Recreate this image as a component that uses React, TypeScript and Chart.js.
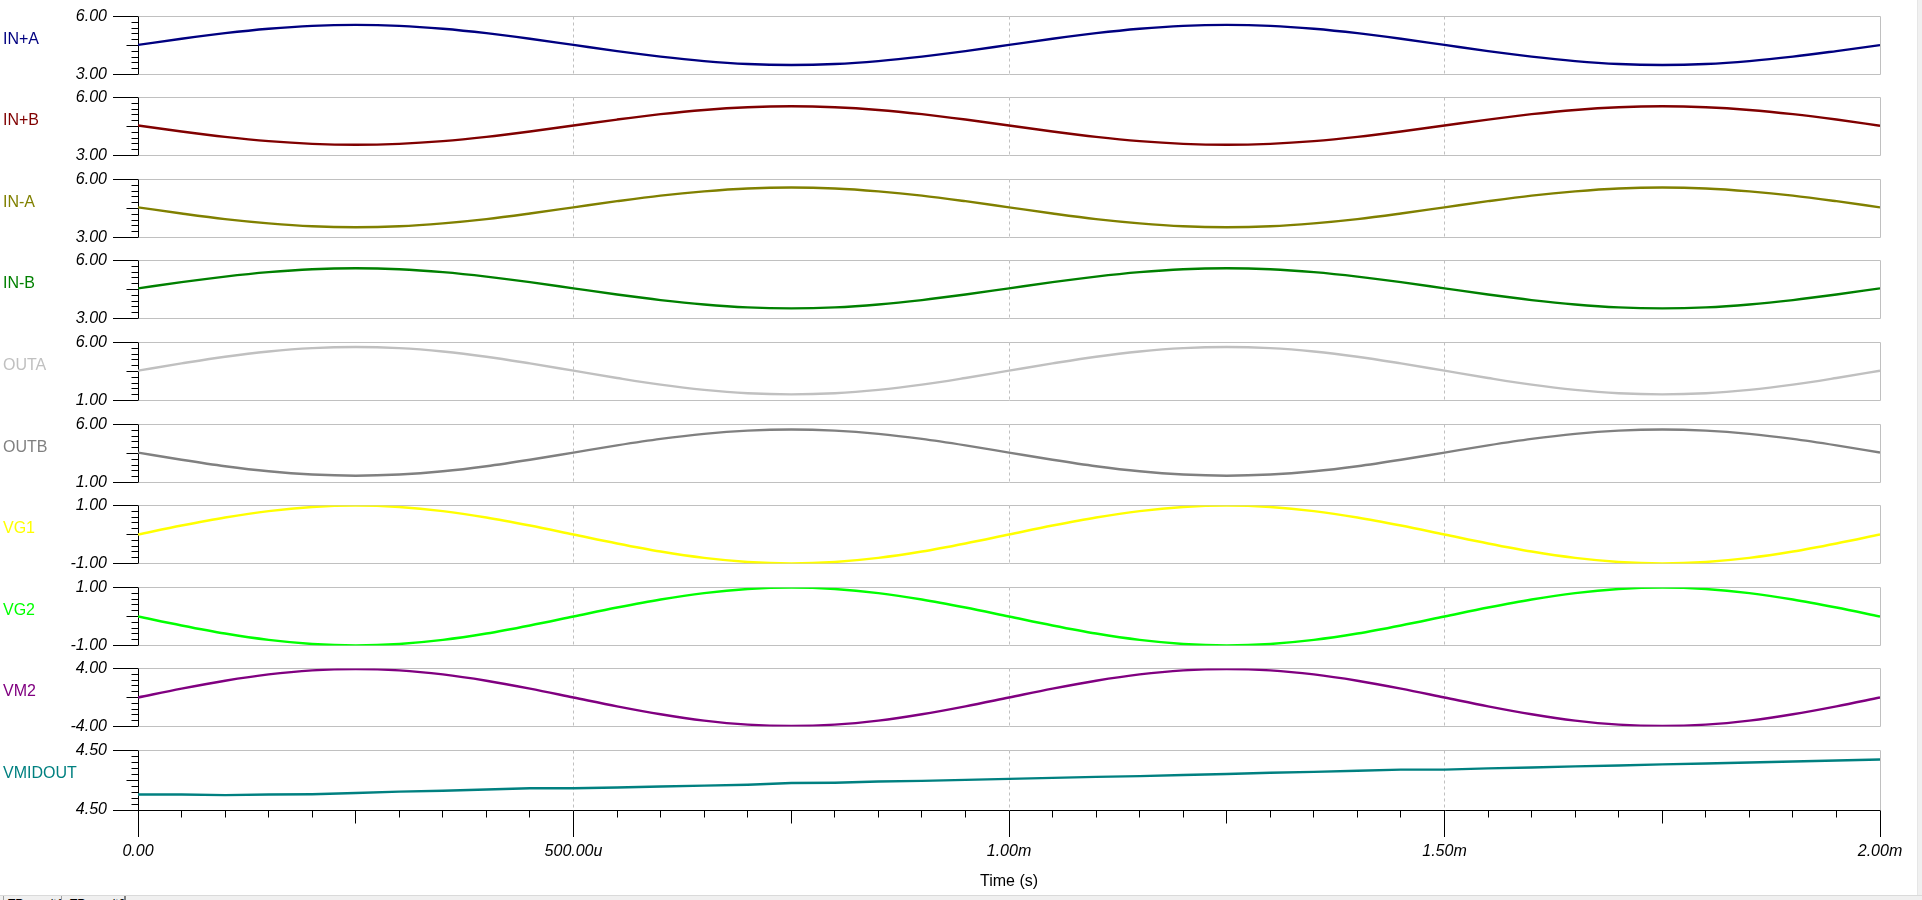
import React, { useEffect, useRef } from "react";
import { Chart, registerables } from "chart.js";

Chart.register(...registerables);

// ---------- data ----------
const TIME_US = [
  0, 50, 100, 150, 200, 250, 300, 350, 400, 450, 500, 550, 600, 650, 700, 750, 800, 850, 900, 950,
  1000, 1050, 1100, 1150, 1200, 1250, 1300, 1350, 1400, 1450, 1500, 1550, 1600, 1650, 1700, 1750,
  1800, 1850, 1900, 1950, 2000,
];

const X_TICK_VALUES = [0, 500, 1000, 1500, 2000];
const X_TICK_LABELS = ["0.00", "500.00u", "1.00m", "1.50m", "2.00m"];
const X_GRID_VALUES = [500, 1000, 1500];
const X_TITLE = "Time (s)";

const SERIES_NAMES = ["IN+A", "IN+B", "IN-A", "IN-B", "OUTA", "OUTB", "VG1", "VG2", "VM2", "VMIDOUT"];
const SERIES_COLORS = [
  "#000080", "#800000", "#808000", "#008000", "#c0c0c0",
  "#808080", "#ffff00", "#00ff00", "#800080", "#008080",
];
const Y_MIN = [3, 3, 3, 3, 1, 1, -1, -1, -4, 4.496];
const Y_MAX = [6, 6, 6, 6, 6, 6, 1, 1, 4, 4.504];
const Y_MIN_LABELS = ["3.00", "3.00", "3.00", "3.00", "1.00", "1.00", "-1.00", "-1.00", "-4.00", "4.50"];
const Y_MAX_LABELS = ["6.00", "6.00", "6.00", "6.00", "6.00", "6.00", "1.00", "1.00", "4.00", "4.50"];

const IN_PLUS_A = [
  4.53, 4.85, 5.14, 5.37, 5.52, 5.57, 5.52, 5.37, 5.14, 4.85, 4.53, 4.21, 3.92, 3.69, 3.54, 3.49, 3.54, 3.69, 3.92, 4.21,
  4.53, 4.85, 5.14, 5.37, 5.52, 5.57, 5.52, 5.37, 5.14, 4.85, 4.53, 4.21, 3.92, 3.69, 3.54, 3.49, 3.54, 3.69, 3.92, 4.21,
  4.52,
];
const IN_PLUS_B = [
  4.55, 4.24, 3.96, 3.74, 3.6, 3.55, 3.6, 3.74, 3.96, 4.24, 4.55, 4.86, 5.14, 5.36, 5.5, 5.55, 5.5, 5.36, 5.14, 4.86,
  4.55, 4.24, 3.96, 3.74, 3.6, 3.55, 3.6, 3.74, 3.96, 4.24, 4.55, 4.86, 5.14, 5.36, 5.5, 5.55, 5.5, 5.36, 5.14, 4.86,
  4.54,
];
const IN_MINUS_A = [
  4.56, 4.24, 3.95, 3.73, 3.58, 3.53, 3.58, 3.73, 3.95, 4.24, 4.56, 4.88, 5.17, 5.39, 5.54, 5.59, 5.54, 5.39, 5.17, 4.88,
  4.56, 4.24, 3.95, 3.73, 3.58, 3.53, 3.58, 3.73, 3.95, 4.24, 4.56, 4.88, 5.17, 5.39, 5.54, 5.59, 5.54, 5.39, 5.17, 4.88,
  4.56,
];
const IN_MINUS_B = [
  4.56, 4.88, 5.17, 5.4, 5.55, 5.6, 5.55, 5.4, 5.17, 4.88, 4.56, 4.24, 3.95, 3.72, 3.57, 3.52, 3.57, 3.72, 3.95, 4.24,
  4.56, 4.88, 5.17, 5.4, 5.55, 5.6, 5.55, 5.4, 5.17, 4.88, 4.56, 4.24, 3.95, 3.72, 3.57, 3.52, 3.57, 3.72, 3.95, 4.24,
  4.56,
];
const OUTA = [
  3.57, 4.2, 4.78, 5.23, 5.52, 5.62, 5.52, 5.23, 4.78, 4.2, 3.57, 2.94, 2.36, 1.91, 1.62, 1.52, 1.62, 1.91, 2.36, 2.94,
  3.57, 4.2, 4.78, 5.23, 5.52, 5.62, 5.52, 5.23, 4.78, 4.2, 3.57, 2.94, 2.36, 1.91, 1.62, 1.52, 1.62, 1.91, 2.36, 2.94,
  3.57,
];
const OUTB = [
  3.58, 2.96, 2.4, 1.96, 1.68, 1.58, 1.68, 1.96, 2.4, 2.96, 3.58, 4.2, 4.76, 5.2, 5.48, 5.58, 5.48, 5.2, 4.76, 4.2,
  3.58, 2.96, 2.4, 1.96, 1.68, 1.58, 1.68, 1.96, 2.4, 2.96, 3.58, 4.2, 4.76, 5.2, 5.48, 5.58, 5.48, 5.2, 4.76, 4.2,
  3.58,
];
const VG1 = [
  0.0, 0.31, 0.59, 0.81, 0.95, 1.0, 0.95, 0.81, 0.59, 0.31, 0.0, -0.31, -0.59, -0.81, -0.95, -1.0, -0.95, -0.81, -0.59, -0.31,
  0.0, 0.31, 0.59, 0.81, 0.95, 1.0, 0.95, 0.81, 0.59, 0.31, 0.0, -0.31, -0.59, -0.81, -0.95, -1.0, -0.95, -0.81, -0.59, -0.31,
  0.0,
];
const VG2 = [
  0.0, -0.31, -0.59, -0.81, -0.95, -1.0, -0.95, -0.81, -0.59, -0.31, 0.0, 0.31, 0.59, 0.81, 0.95, 1.0, 0.95, 0.81, 0.59, 0.31,
  0.0, -0.31, -0.59, -0.81, -0.95, -1.0, -0.95, -0.81, -0.59, -0.31, 0.0, 0.31, 0.59, 0.81, 0.95, 1.0, 0.95, 0.81, 0.59, 0.31,
  0.0,
];
const VM2 = [
  0.0, 1.22, 2.32, 3.2, 3.76, 3.95, 3.76, 3.2, 2.32, 1.22, 0.0, -1.22, -2.32, -3.2, -3.76, -3.95, -3.76, -3.2, -2.32, -1.22,
  0.0, 1.22, 2.32, 3.2, 3.76, 3.95, 3.76, 3.2, 2.32, 1.22, 0.0, -1.22, -2.32, -3.2, -3.76, -3.95, -3.76, -3.2, -2.32, -1.22,
  0.0,
];
const VMIDOUT = [
  4.49808, 4.49808, 4.498, 4.49808, 4.49812, 4.49828, 4.49848, 4.4986, 4.49876, 4.49892, 4.49892,
  4.49904, 4.49916, 4.49928, 4.4994, 4.49964, 4.49968, 4.49984, 4.49992, 4.50006, 4.50019,
  4.50032, 4.50046, 4.50056, 4.50072, 4.50084, 4.50102, 4.50114, 4.50128, 4.50144, 4.50144,
  4.5016, 4.50172, 4.50188, 4.502, 4.50214, 4.50227, 4.5024, 4.50254, 4.50266, 4.5028,
];

const SERIES_VALUES = [IN_PLUS_A, IN_PLUS_B, IN_MINUS_A, IN_MINUS_B, OUTA, OUTB, VG1, VG2, VM2, VMIDOUT];

// ---------- layout ----------
const W = 1922;
const H = 900;
const PLOT_LEFT = 138;
const PLOT_RIGHT = 1880;
const PANEL_TOPS = [15, 96, 178, 259, 341, 423, 504, 586, 667, 749];
const PANEL_H = 61;
const PAD = 14;
const X_AXIS_H = 90;
const FONT = '"Liberation Sans", Arial, sans-serif';

const align = (p: number) => Math.round(p - 0.5) + 0.5;

const decorPlugin = {
  id: "decor",
  beforeDatasetsDraw(chart: any, _args: any, opts: any) {
    const { ctx, chartArea: a, scales } = chart;
    const xs = scales.x;
    const ys = scales.y;
    const isLast = !!opts.isLast;
    const L = align(a.left);
    const R = align(a.right);
    const T = align(a.top);
    const B = align(a.bottom);
    ctx.save();
    ctx.lineWidth = 1;
    // dashed vertical grid
    ctx.strokeStyle = "#c0c0c0";
    ctx.setLineDash([3, 3]);
    for (const v of X_GRID_VALUES) {
      const px = align(xs.getPixelForValue(v));
      ctx.beginPath();
      ctx.moveTo(px, T);
      ctx.lineTo(px, B);
      ctx.stroke();
    }
    ctx.setLineDash([]);
    // box
    ctx.beginPath();
    ctx.moveTo(L, T);
    ctx.lineTo(R, T);
    ctx.lineTo(R, B);
    if (!isLast) ctx.lineTo(L, B);
    ctx.stroke();
    // y minor ticks
    ctx.strokeStyle = "#000";
    const min = ys.min;
    const max = ys.max;
    for (let j = 1; j < 10; j++) {
      const v = min + ((max - min) * j) / 10;
      const py = align(ys.getPixelForValue(v));
      const len = j === 5 ? 12 : 7;
      ctx.beginPath();
      ctx.moveTo(L - len, py);
      ctx.lineTo(L, py);
      ctx.stroke();
    }
    // x minor ticks
    if (isLast) {
      for (let t = 50; t < 2000; t += 50) {
        if (t % 500 === 0) continue;
        const px = align(xs.getPixelForValue(t));
        const len = t % 250 === 0 ? 13 : 7;
        ctx.beginPath();
        ctx.moveTo(px, B);
        ctx.lineTo(px, B + len);
        ctx.stroke();
      }
    }
    ctx.restore();
  },
};

function makeConfig(i: number) {
  const isLast = i === SERIES_NAMES.length - 1;
  const vals = SERIES_VALUES[i];
  const data = TIME_US.map((t, k) => ({ x: t, y: vals[k] }));
  const tickFont = { family: FONT, size: 16, style: "italic" as const };
  return {
    type: "line" as const,
    data: {
      datasets: [
        {
          label: SERIES_NAMES[i],
          data,
          borderColor: SERIES_COLORS[i],
          borderWidth: 2.4,
          pointRadius: 0,
          fill: false,
          cubicInterpolationMode: isLast ? "default" : "monotone",
          tension: isLast ? 0 : 0.4,
        },
      ],
    },
    options: {
      animation: false,
      responsive: false,
      devicePixelRatio: 1,
      events: [],
      layout: { padding: { left: 0, right: W - PLOT_RIGHT, top: PAD, bottom: isLast ? 0 : PAD } },
      plugins: {
        legend: { display: false },
        tooltip: { enabled: false },
        decor: { isLast },
      },
      scales: {
        x: {
          type: "linear",
          min: 0,
          max: 2000,
          display: isLast,
          afterBuildTicks: (scale: any) => {
            scale.ticks = X_TICK_VALUES.map((v) => ({ value: v }));
          },
          afterFit: (scale: any) => {
            scale.height = isLast ? X_AXIS_H : 0;
          },
          ticks: {
            autoSkip: false,
            maxRotation: 0,
            minRotation: 0,
            padding: 5,
            color: "#000",
            font: tickFont,
            callback: (_v: any, idx: number) => X_TICK_LABELS[idx],
          },
          grid: {
            drawOnChartArea: false,
            drawTicks: true,
            tickLength: 27,
            tickColor: "#000",
            tickWidth: 1,
          },
          border: { display: true, color: "#000", width: 1 },
          title: {
            display: isLast,
            text: X_TITLE,
            color: "#000",
            font: { family: FONT, size: 16 },
            padding: { top: 0, bottom: 9 },
          },
        },
        y: {
          type: "linear",
          min: Y_MIN[i],
          max: Y_MAX[i],
          afterBuildTicks: (scale: any) => {
            scale.ticks = [{ value: Y_MIN[i] }, { value: Y_MAX[i] }];
          },
          afterFit: (scale: any) => {
            scale.width = PLOT_LEFT;
          },
          ticks: {
            autoSkip: false,
            padding: 6,
            color: "#000",
            font: tickFont,
            callback: (_v: any, idx: number) => (idx === 0 ? Y_MIN_LABELS[i] : Y_MAX_LABELS[i]),
          },
          grid: {
            drawOnChartArea: false,
            drawTicks: true,
            tickLength: 25,
            tickColor: "#000",
            tickWidth: 1,
          },
          border: { display: true, color: "#000", width: 1 },
        },
      },
    },
    plugins: [decorPlugin],
  };
}

function Panel({ i }: { i: number }) {
  const ref = useRef<HTMLCanvasElement | null>(null);
  const isLast = i === SERIES_NAMES.length - 1;
  const top = PANEL_TOPS[i] - PAD;
  const height = isLast ? H - top : PANEL_H + 2 * PAD;
  useEffect(() => {
    if (!ref.current) return;
    const chart = new Chart(ref.current, makeConfig(i) as any);
    return () => chart.destroy();
  }, [i]);
  return (
    <>
      <canvas
        ref={ref}
        width={W}
        height={height}
        style={{ position: "absolute", left: 0, top, width: W, height }}
      />
      <div
        style={{
          position: "absolute",
          left: 3,
          top: PANEL_TOPS[i] + 24 - 10,
          font: `16px ${FONT}`,
          lineHeight: "20px",
          color: SERIES_COLORS[i],
          whiteSpace: "nowrap",
        }}
      >
        {SERIES_NAMES[i]}
      </div>
    </>
  );
}

export default function App() {
  return (
    <div
      style={{
        position: "fixed",
        left: 0,
        top: 0,
        width: W,
        height: H,
        background: "#fff",
        overflow: "hidden",
      }}
    >
      {SERIES_NAMES.map((_, i) => (
        <Panel key={i} i={i} />
      ))}
      <div
        style={{
          position: "absolute",
          left: 1917,
          top: 0,
          width: 5,
          height: 895,
          background: "#f0f0f0",
          borderLeft: "1px solid #e6e6e6",
        }}
      />
      <div
        style={{
          position: "absolute",
          left: 0,
          top: 895,
          width: W,
          height: 5,
          background: "#f0f0f0",
          borderTop: "1px solid #dadada",
          overflow: "hidden",
          font: `12px ${FONT}`,
          color: "#000",
        }}
      >
        <span style={{ position: "absolute", left: 3, top: 0, width: 1, height: 5, background: "#a0a0a0" }} />
        <span style={{ position: "absolute", left: 8, top: 1, lineHeight: "14px" }}>TR result1</span>
        <span style={{ position: "absolute", left: 61, top: 0, width: 1, height: 5, background: "#a0a0a0" }} />
        <span style={{ position: "absolute", left: 70, top: 1, lineHeight: "14px" }}>TR result2</span>
        <span style={{ position: "absolute", left: 124, top: 0, width: 2, height: 5, background: "#808080" }} />
      </div>
    </div>
  );
}
